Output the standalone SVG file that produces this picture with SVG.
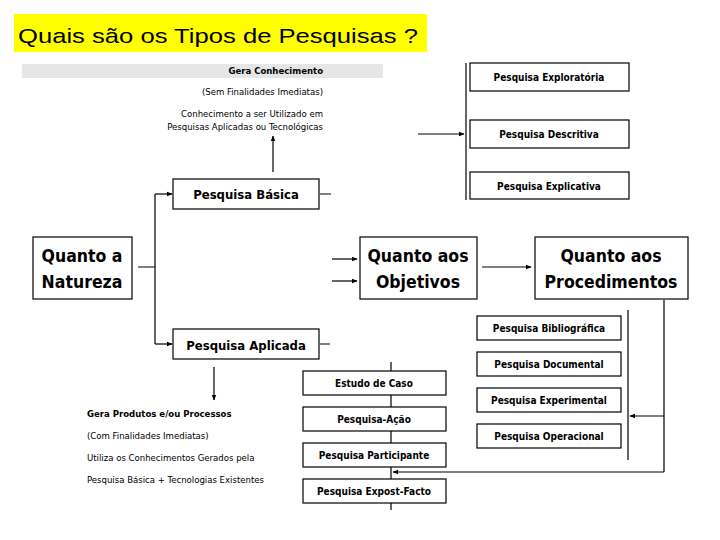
<svg xmlns="http://www.w3.org/2000/svg" width="720" height="540" viewBox="0 0 720 540">
<defs>
<marker id="ah" viewBox="0 0 10 10" refX="9" refY="5" markerWidth="5" markerHeight="5" orient="auto"><path d="M0,1 L10,5 L0,9 z" fill="#000"/></marker>
<style>
.b{fill:#fff;stroke:#000;stroke-width:1.2}
.big{font-family:"DejaVu Sans Condensed","Noto Sans",sans-serif;font-weight:bold;font-size:17.5px;text-anchor:middle}
.mid{font-family:"DejaVu Sans Condensed","Noto Sans",sans-serif;font-weight:bold;font-size:13px;text-anchor:middle}
.sm{font-family:"DejaVu Sans Condensed","Noto Sans",sans-serif;font-weight:bold;font-size:10px;text-anchor:middle}
.note{font-family:"DejaVu Sans Condensed","Noto Sans",sans-serif;font-size:9.5px}
.l{stroke:#000;stroke-width:1.2;fill:none}
.a{stroke:#000;stroke-width:1.2;fill:none;marker-end:url(#ah)}
</style>
</defs>
<rect width="720" height="540" fill="#fff"/>
<g id="title"><rect x="14" y="14" width="413" height="38" fill="#ffff00"/><text x="18" y="43" font-family="Liberation Sans,Arial,sans-serif" font-size="21" textLength="400" lengthAdjust="spacingAndGlyphs">Quais são os Tipos de Pesquisas ?</text></g>
<g id="notes-basica">
<rect x="22" y="64" width="361" height="14" fill="#e6e6e6"/>
<text class="note" x="323" y="74" text-anchor="end" font-weight="bold">Gera Conhecimento</text>
<text class="note" x="323" y="95" text-anchor="end">(Sem Finalidades Imediatas)</text>
<text class="note" x="323" y="117" text-anchor="end">Conhecimento a ser Utilizado em</text>
<text class="note" x="323" y="130" text-anchor="end">Pesquisas Aplicadas ou Tecnológicas</text>
</g>
<g id="notes-aplicada">
<text class="note" x="87" y="417" font-weight="bold">Gera Produtos e/ou Processos</text>
<text class="note" x="87" y="439">(Com Finalidades Imediatas)</text>
<text class="note" x="87" y="461">Utiliza os Conhecimentos Gerados pela</text>
<text class="note" x="87" y="483">Pesquisa Básica + Tecnologias Existentes</text>
</g>
<g id="connectors">
<path class="a" d="M273,172 V136"/>
<path class="l" d="M138,267 H155 M155,194 V344"/>
<path class="a" d="M155,194 H172"/>
<path class="a" d="M155,344 H172"/>
<path class="l" d="M320,194 H331 M320,344 H330"/>
<path class="a" d="M214,367 V400"/>
<path class="a" d="M332,259 H357"/>
<path class="a" d="M332,281 H357"/>
<path class="a" d="M482,267 H531"/>
<path class="l" d="M466,63 V200"/>
<path class="a" d="M418,134 H464"/>
<path class="l" d="M664,300 V472 M628,310 V460 M391,362 V510"/>
<path class="a" d="M664,416 H630"/>
<path class="a" d="M664,472 H393"/>
</g>
<g id="natureza"><rect class="b" x="33" y="237" width="99" height="62"/><text class="big" x="82" y="262">Quanto a</text><text class="big" x="82" y="288">Natureza</text></g>
<g id="basica"><rect class="b" x="173" y="179" width="146" height="30"/><text class="mid" x="246" y="199">Pesquisa Básica</text></g>
<g id="aplicada"><rect class="b" x="173" y="329" width="146" height="30"/><text class="mid" x="246" y="350">Pesquisa Aplicada</text></g>
<g id="objetivos"><rect class="b" x="360" y="237" width="117" height="62"/><text class="big" x="418" y="262">Quanto aos</text><text class="big" x="418" y="288">Objetivos</text></g>
<g id="procedimentos"><rect class="b" x="535" y="237" width="153" height="62"/><text class="big" x="611" y="262">Quanto aos</text><text class="big" x="611" y="288">Procedimentos</text></g>
<g id="exploratoria"><rect class="b" x="470" y="63" width="159" height="28"/><text class="sm" x="549" y="81" font-size="11">Pesquisa Exploratória</text></g>
<g id="descritiva"><rect class="b" x="470" y="120" width="159" height="28"/><text class="sm" x="549" y="138" font-size="11">Pesquisa Descritiva</text></g>
<g id="explicativa"><rect class="b" x="470" y="172" width="159" height="27"/><text class="sm" x="549" y="190" font-size="11">Pesquisa Explicativa</text></g>
<g id="bibliografica"><rect class="b" x="477" y="316" width="144" height="24"/><text class="sm" x="549" y="332">Pesquisa Bibliográfica</text></g>
<g id="documental"><rect class="b" x="477" y="352" width="144" height="24"/><text class="sm" x="549" y="368">Pesquisa Documental</text></g>
<g id="experimental"><rect class="b" x="477" y="388" width="144" height="24"/><text class="sm" x="549" y="404">Pesquisa Experimental</text></g>
<g id="operacional"><rect class="b" x="477" y="424" width="144" height="24"/><text class="sm" x="549" y="440">Pesquisa Operacional</text></g>
<g id="estudo"><rect class="b" x="303" y="371" width="143" height="24"/><text class="sm" x="374" y="387">Estudo de Caso</text></g>
<g id="acao"><rect class="b" x="303" y="407" width="143" height="24"/><text class="sm" x="374" y="423">Pesquisa-Ação</text></g>
<g id="participante"><rect class="b" x="303" y="443" width="143" height="24"/><text class="sm" x="374" y="459">Pesquisa Participante</text></g>
<g id="expost"><rect class="b" x="303" y="479" width="143" height="24"/><text class="sm" x="374" y="495">Pesquisa Expost-Facto</text></g>
</svg>
